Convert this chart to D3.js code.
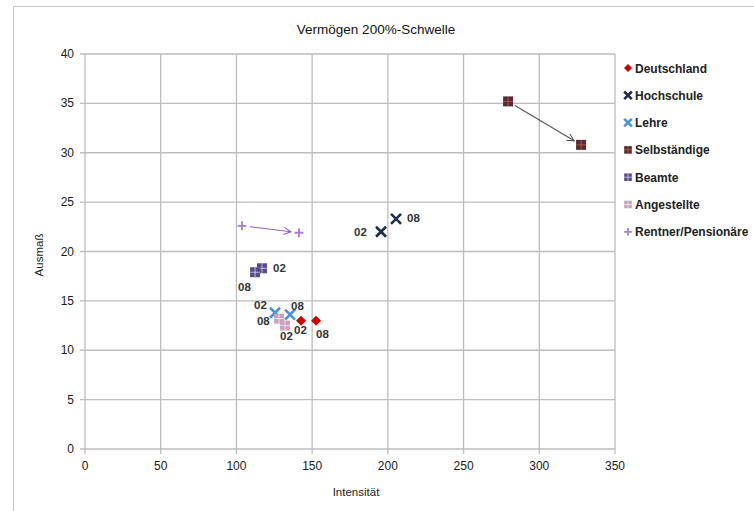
<!DOCTYPE html>
<html><head><meta charset="utf-8">
<script src="https://cdn.jsdelivr.net/npm/d3@7"></script>
<style>
body{margin:0;background:#fff;}
svg{display:block;font-family:"Liberation Sans",Arial,sans-serif;}
</style></head>
<body>
<svg id="c" width="754" height="511"></svg>
<script>
const title = "Vermögen 200%-Schwelle";
const xTitle = "Intensität";
const yTitle = "Ausmaß";
const series = ["Deutschland","Hochschule","Lehre","Selbständige","Beamte","Angestellte","Rentner/Pensionäre"];
const x02 = [142.7, 195.5, 125.5, 279.4, 116.9, 132.1, 103.7];
const y02 = [13.0, 22.0, 13.8, 35.2, 18.3, 12.5, 22.6];
const x08 = [152.6, 205.4, 135.4, 327.6, 112.3, 128.1, 141.3];
const y08 = [13.0, 23.3, 13.6, 30.8, 17.9, 13.2, 21.9];
const pointLabels = ["02","08"];
const xTicks = [0,50,100,150,200,250,300,350];
const yTicks = [0,5,10,15,20,25,30,35,40];

// style (not data)
const colors = ["#CC0000","#1F2D4A","#4A8FE0","#5A2A3C","#5A4A8E","#C9A3BE","#A67FD0"];
const shapes = ["diamond","x","x","squareCross","squareCross","squareCross","plus"];
const labelled = [true,true,true,false,true,true,false];
const arrows = [false,false,false,true,false,false,true];
const labOff = [
  [[-7,13],[0,17]],
  [[-27,4],[11,3]],
  [[-21,-4],[1,-5]],
  null,
  [[11,4],[-17,19]],
  [[-5,14],[-22,6]],
  null
];

const svg = d3.select("#c");
svg.append("rect").attr("x",13.5).attr("y",6.5).attr("width",760).attr("height",520)
  .attr("fill","#fff").attr("stroke","#c8c8c8");

const x = d3.scaleLinear().domain([0,350]).range([85,615]);
const y = d3.scaleLinear().domain([0,40]).range([449,54]);

svg.append("g").selectAll("line").data(xTicks).join("line")
  .attr("x1",d=>x(d)).attr("x2",d=>x(d)).attr("y1",y(40)).attr("y2",y(0)+5)
  .attr("stroke","#bdbdbd").attr("stroke-width",1.3);
svg.append("g").selectAll("line").data(yTicks).join("line")
  .attr("x1",x(0)-5).attr("x2",x(350)).attr("y1",d=>y(d)).attr("y2",d=>y(d))
  .attr("stroke","#bdbdbd").attr("stroke-width",1.3);

svg.append("g").selectAll("text").data(yTicks).join("text")
  .attr("x",x(0)-11).attr("y",d=>y(d)+4).attr("text-anchor","end")
  .attr("font-size",12).attr("fill","#1a1a1a").text(d=>d);
svg.append("g").selectAll("text").data(xTicks).join("text")
  .attr("x",d=>x(d)).attr("y",y(0)+21).attr("text-anchor","middle")
  .attr("font-size",12).attr("fill","#1a1a1a").text(d=>d);

svg.append("text").attr("x",376).attr("y",34).attr("text-anchor","middle")
  .attr("font-size",13.5).attr("fill","#111").text(title);
svg.append("text").attr("x",356).attr("y",496).attr("text-anchor","middle")
  .attr("font-size",11.5).attr("fill","#222").text(xTitle);
svg.append("text").attr("transform","translate(43,255) rotate(-90)").attr("text-anchor","middle")
  .attr("font-size",11.5).attr("fill","#222").text(yTitle);

const defs = svg.append("defs");
function arrowDef(id,color){
  defs.append("marker").attr("id",id).attr("viewBox","0 0 10 10").attr("refX",9).attr("refY",5)
    .attr("markerWidth",9).attr("markerHeight",9).attr("orient","auto").attr("markerUnits","userSpaceOnUse")
    .append("path").attr("d","M1,1 L9,5 L1,9").attr("fill","none").attr("stroke",color).attr("stroke-width",1.2);
}
arrowDef("a3","#555");
arrowDef("a6","#8E62C0");

function drawMarker(g, shape, color, cx, cy, s){
  if(shape==="diamond"){
    g.append("path").attr("d",`M${cx},${cy-s} L${cx+s},${cy} L${cx},${cy+s} L${cx-s},${cy} Z`).attr("fill",color);
  } else if(shape==="x"){
    g.append("path").attr("d",`M${cx-s},${cy-s} L${cx+s},${cy+s} M${cx-s},${cy+s} L${cx+s},${cy-s}`)
      .attr("stroke",color).attr("stroke-width",2.6).attr("fill","none");
  } else if(shape==="plus"){
    g.append("path").attr("d",`M${cx-s},${cy} L${cx+s},${cy} M${cx},${cy-s} L${cx},${cy+s}`)
      .attr("stroke",color).attr("stroke-width",1.8).attr("fill","none");
  } else if(shape==="squareCross"){
    g.append("rect").attr("x",cx-s).attr("y",cy-s).attr("width",2*s).attr("height",2*s).attr("fill",color);
    g.append("path").attr("d",`M${cx-s},${cy} L${cx+s},${cy} M${cx},${cy-s} L${cx},${cy+s}`)
      .attr("stroke", color==="#5A2A3C" ? "#D9772A" : "#ffffff").attr("stroke-opacity",0.6).attr("stroke-width",1);
  }
}

const sizes = {diamond:5, x:5, plus:4.5, squareCross:5};

series.forEach((s,i)=>{
  if(!arrows[i]) return;
  const X1=x(x02[i]),Y1=y(y02[i]),X2=x(x08[i]),Y2=y(y08[i]);
  const dx=X2-X1, dy=Y2-Y1, L=Math.hypot(dx,dy);
  const a=8/L, b=(L-8)/L;
  svg.append("line").attr("x1",X1+dx*a).attr("y1",Y1+dy*a).attr("x2",X1+dx*b).attr("y2",Y1+dy*b)
    .attr("stroke", i===3?"#555":"#8E62C0").attr("stroke-width",1.1)
    .attr("marker-end",`url(#${i===3?"a3":"a6"})`);
});

const pg = svg.append("g");
series.forEach((s,i)=>{
  const pts=[[x02[i],y02[i]],[x08[i],y08[i]]];
  pts.forEach(([vx,vy])=>{
    drawMarker(pg, shapes[i], colors[i], x(vx), y(vy), sizes[shapes[i]]);
  });
});
const lg = svg.append("g");
series.forEach((s,i)=>{
  if(!labelled[i]) return;
  const pts=[[x02[i],y02[i]],[x08[i],y08[i]]];
  pts.forEach(([vx,vy],k)=>{
    lg.append("text").attr("x",x(vx)+labOff[i][k][0]).attr("y",y(vy)+labOff[i][k][1])
      .attr("font-size",11.5).attr("font-weight","bold").attr("fill","#333").text(pointLabels[k]);
  });
});

const leg = svg.append("g");
series.forEach((s,i)=>{
  const ly = 68 + i*27.3;
  drawMarker(leg, shapes[i], colors[i], 628, ly, shapes[i]==="diamond"?4:3.8);
  leg.append("text").attr("x",635).attr("y",ly+4.5).attr("font-size",12).attr("font-weight","bold")
    .attr("fill","#222").text(s);
});
</script>
</body></html>
